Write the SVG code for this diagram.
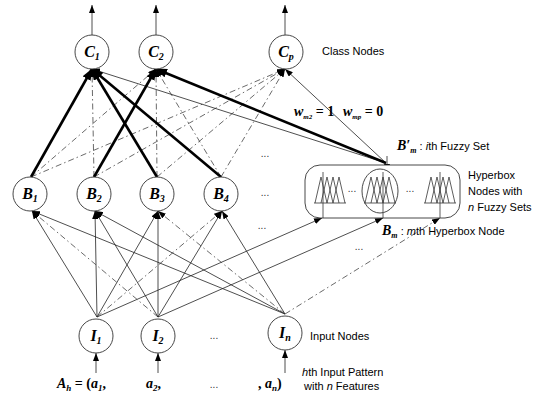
<svg xmlns="http://www.w3.org/2000/svg" width="542" height="394" viewBox="0 0 542 394">
<style>
.node{fill:#fff;stroke:#333;stroke-width:0.9}
.thick{stroke:#000;stroke-width:2.6;fill:none}
.thin{stroke:#222;stroke-width:0.8;fill:none}
.dash{stroke:#444;stroke-width:0.8;stroke-dasharray:6 3 1.5 3;fill:none}
.lbl{font-family:"Liberation Serif",serif;font-weight:bold;font-style:italic;font-size:16px;fill:#000;text-anchor:middle}
.sans{font-family:"Liberation Sans",Arial,sans-serif;font-size:11px;fill:#000}
.math{font-family:"Liberation Serif",serif;font-weight:bold;font-style:italic;font-size:14px;fill:#000}
.dots{font-family:"Liberation Sans",sans-serif;font-size:10px;fill:#333;text-anchor:middle}
.fz{stroke:#333;stroke-width:0.8;fill:none}
</style>
<defs>
<marker id="ah" markerUnits="userSpaceOnUse" markerWidth="8" markerHeight="6" refX="8" refY="3" orient="auto"><path d="M0,0 L8,3 L0,6 z" fill="#000"/></marker>
<marker id="ahb" markerUnits="userSpaceOnUse" markerWidth="12" markerHeight="9" refX="11" refY="4.5" orient="auto"><path d="M0,0 L12,4.5 L0,9 z" fill="#000"/></marker>
<path id="tri" d="M-6,26 L0,0 L6,26 M0,26 L6,0 L12,26 M6,26 L12,0 L18,26 M12,26 L18,0 L24,26 M-7,26 H25"/>
</defs>

<g id="connectors">
<line class="thin" x1="92" y1="35" x2="92" y2="5" marker-end="url(#ah)"/>
<line class="thin" x1="156" y1="35" x2="156" y2="5" marker-end="url(#ah)"/>
<line class="thin" x1="285" y1="35" x2="285" y2="5" marker-end="url(#ah)"/>
<line class="dash" x1="94" y1="177" x2="92" y2="69" marker-end="url(#ah)"/>
<line class="dash" x1="31" y1="177" x2="156" y2="69" marker-end="url(#ah)"/>
<line class="dash" x1="157" y1="177" x2="156" y2="69" marker-end="url(#ah)"/>
<line class="dash" x1="221" y1="177" x2="156" y2="69" marker-end="url(#ah)"/>
<line class="dash" x1="31" y1="177" x2="285" y2="69" marker-end="url(#ah)"/>
<line class="dash" x1="94" y1="177" x2="285" y2="69" marker-end="url(#ah)"/>
<line class="dash" x1="157" y1="177" x2="285" y2="69" marker-end="url(#ah)"/>
<line class="dash" x1="221" y1="177" x2="285" y2="69" marker-end="url(#ah)"/>
<line class="thin" x1="386" y1="163" x2="92" y2="69" marker-end="url(#ah)"/>
<line class="thin" x1="386" y1="163" x2="285" y2="69" marker-end="url(#ah)"/>
<line class="thick" x1="31" y1="177" x2="92" y2="69" marker-end="url(#ahb)"/>
<line class="thick" x1="157" y1="177" x2="92" y2="69" marker-end="url(#ahb)"/>
<line class="thick" x1="221" y1="177" x2="92" y2="69" marker-end="url(#ahb)"/>
<line class="thick" x1="94" y1="177" x2="156" y2="69" marker-end="url(#ahb)"/>
<line class="thick" x1="386" y1="163" x2="156" y2="69" marker-end="url(#ahb)"/>
<line class="thin" x1="97" y1="317" x2="32" y2="211" marker-end="url(#ah)"/>
<line class="thin" x1="97" y1="317" x2="95" y2="211" marker-end="url(#ah)"/>
<line class="thin" x1="97" y1="317" x2="158" y2="211" marker-end="url(#ah)"/>
<line class="dash" x1="97" y1="317" x2="222" y2="211" marker-end="url(#ah)"/>
<line class="thin" x1="97" y1="317" x2="322" y2="218" marker-end="url(#ah)"/>
<line class="dash" x1="158" y1="317" x2="32" y2="211" marker-end="url(#ah)"/>
<line class="thin" x1="158" y1="317" x2="95" y2="211" marker-end="url(#ah)"/>
<line class="thin" x1="158" y1="317" x2="158" y2="211" marker-end="url(#ah)"/>
<line class="thin" x1="158" y1="317" x2="222" y2="211" marker-end="url(#ah)"/>
<line class="thin" x1="158" y1="317" x2="383" y2="218" marker-end="url(#ah)"/>
<line class="thin" x1="285" y1="314" x2="32" y2="211" marker-end="url(#ah)"/>
<line class="thin" x1="285" y1="314" x2="95" y2="211" marker-end="url(#ah)"/>
<line class="dash" x1="285" y1="314" x2="158" y2="211" marker-end="url(#ah)"/>
<line class="thin" x1="285" y1="314" x2="222" y2="211" marker-end="url(#ah)"/>
<line class="dash" x1="285" y1="314" x2="440" y2="218" marker-end="url(#ah)"/>
<line class="thin" x1="96" y1="373" x2="96" y2="353" marker-end="url(#ah)"/>
<line class="thin" x1="158" y1="373" x2="158" y2="353" marker-end="url(#ah)"/>
<line class="thin" x1="285" y1="373" x2="285" y2="350" marker-end="url(#ah)"/>
<line class="thin" x1="387" y1="156" x2="387" y2="172" marker-end="url(#ah)"/>
</g>

<g id="C1"><circle class="node" cx="92" cy="52" r="17"/><text class="lbl" x="92" y="57">C<tspan font-size="10" dy="3">1</tspan></text></g>
<g id="C2"><circle class="node" cx="156" cy="52" r="17"/><text class="lbl" x="156" y="57">C<tspan font-size="10" dy="3">2</tspan></text></g>
<g id="Cp"><circle class="node" cx="286" cy="52" r="17"/><text class="lbl" x="286" y="57">C<tspan font-size="10" dy="3">p</tspan></text></g>

<g id="B1"><circle class="node" cx="30" cy="194" r="17"/><text class="lbl" x="30" y="199">B<tspan font-size="10" dy="3">1</tspan></text></g>
<g id="B2"><circle class="node" cx="94" cy="194" r="17"/><text class="lbl" x="94" y="199">B<tspan font-size="10" dy="3">2</tspan></text></g>
<g id="B3"><circle class="node" cx="157" cy="194" r="17"/><text class="lbl" x="157" y="199">B<tspan font-size="10" dy="3">3</tspan></text></g>
<g id="B4"><circle class="node" cx="221" cy="194" r="17"/><text class="lbl" x="221" y="199">B<tspan font-size="10" dy="3">4</tspan></text></g>

<g id="Bm">
<rect class="node" x="305" y="165" width="155" height="53" rx="15" fill="none"/>
<ellipse class="node" cx="380" cy="191" rx="18" ry="22"/>
<use href="#tri" class="fz" x="321" y="177"/>
<use href="#tri" class="fz" x="371" y="177"/>
<use href="#tri" class="fz" x="431" y="177"/>
<line class="fz" x1="323" y1="172" x2="323" y2="218"/>
<line class="fz" x1="383" y1="172" x2="383" y2="218"/>
<line class="fz" x1="440" y1="172" x2="440" y2="218"/>
<text class="dots" x="352" y="192">...</text>
<text class="dots" x="410" y="192">...</text>
</g>

<g id="I1"><circle class="node" cx="96" cy="336" r="17"/><text class="lbl" x="96" y="341">I<tspan font-size="10" dy="3">1</tspan></text></g>
<g id="I2"><circle class="node" cx="158" cy="336" r="17"/><text class="lbl" x="158" y="341">I<tspan font-size="10" dy="3">2</tspan></text></g>
<g id="In"><circle class="node" cx="285" cy="333" r="17"/><text class="lbl" x="285" y="338">I<tspan font-size="10" dy="3">n</tspan></text></g>

<g id="labels">
<text class="sans" x="322" y="55" font-size="12">Class Nodes</text>
<text class="math" x="294" y="116" font-size="12">w<tspan font-size="7" dy="3">m2</tspan><tspan dy="-3" font-style="normal"> = 1</tspan></text>
<text class="math" x="343" y="116" font-size="12">w<tspan font-size="7" dy="3">mp</tspan><tspan dy="-3" font-style="normal"> = 0</tspan></text>
<text class="sans" x="397" y="150"><tspan class="math" font-size="13">B′<tspan font-size="8" dy="3">m</tspan></tspan><tspan dy="-3"> : </tspan><tspan font-style="italic">i</tspan>th Fuzzy Set</text>
<text class="sans" x="468" y="179">Hyperbox</text>
<text class="sans" x="468" y="195">Nodes with</text>
<text class="sans" x="468" y="211"><tspan font-style="italic">n</tspan> Fuzzy Sets</text>
<text class="sans" x="382" y="235"><tspan class="math" font-size="13">B<tspan font-size="8" dy="3">m</tspan></tspan><tspan dy="-3"> : </tspan><tspan font-style="italic">m</tspan>th Hyperbox Node</text>
<text class="sans" x="310" y="340">Input Nodes</text>
<text class="sans" x="302" y="376"><tspan font-style="italic">h</tspan>th Input Pattern</text>
<text class="sans" x="304" y="390">with <tspan font-style="italic">n</tspan> Features</text>
<text class="math" x="57" y="388">A<tspan font-size="9" dy="3">h</tspan><tspan dy="-3" font-style="normal"> = (</tspan>a<tspan font-size="9" dy="3">1</tspan><tspan dy="-3" font-style="normal">,</tspan></text>
<text class="math" x="146" y="388">a<tspan font-size="9" dy="3">2</tspan><tspan dy="-3" font-style="normal">,</tspan></text>
<text class="math" x="258" y="388"><tspan font-style="normal">, </tspan>a<tspan font-size="9" dy="3">n</tspan><tspan dy="-3" font-style="normal">)</tspan></text>
<text class="dots" x="265" y="157">...</text>
<text class="dots" x="265" y="196">...</text>
<text class="dots" x="262" y="229">...</text>
<text class="dots" x="359" y="250">...</text>
<text class="dots" x="214" y="339">...</text>
<text class="dots" x="214" y="388">...</text>
</g>
</svg>
